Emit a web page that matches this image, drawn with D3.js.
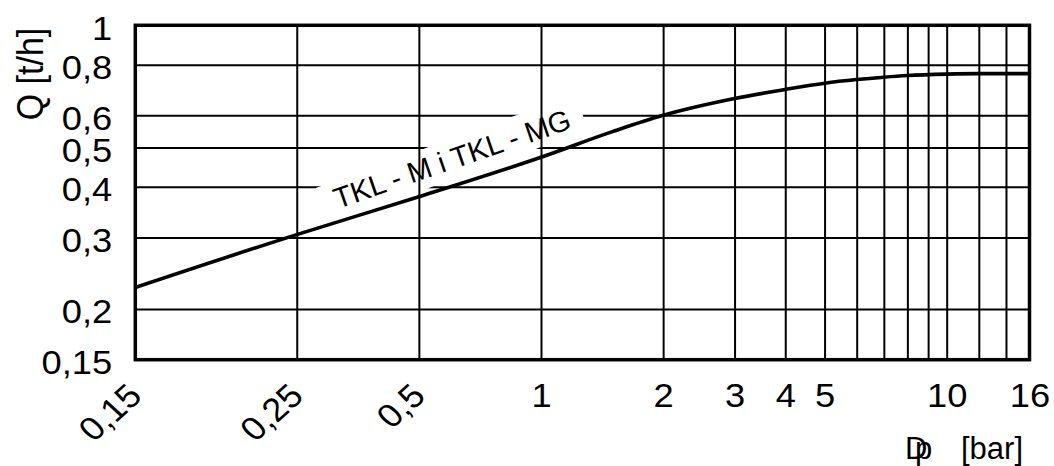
<!DOCTYPE html>
<html>
<head>
<meta charset="utf-8">
<script src="https://cdn.jsdelivr.net/npm/d3@7"></script>
<style>
  html, body { margin: 0; padding: 0; background: #fff; }
  svg { display: block; font-family: "Liberation Sans", Arial, sans-serif; }
</style>
</head>
<body>
<svg id="chart" width="1054" height="466"></svg>
<script>
// ---- data ----
const dp = [0.1, 0.25, 0.5, 1, 1.5, 2, 3, 4, 5, 6, 7, 8, 10, 12, 16];
const q  = [0.226, 0.305, 0.378, 0.473, 0.547, 0.6, 0.66, 0.695, 0.72, 0.735, 0.745, 0.752, 0.758, 0.76, 0.76];
const seriesLabel = "TKL - M i TKL - MG";

const xTickValues = [0.1, 0.25, 0.5, 1, 2, 3, 4, 5, 10, 16];
const xTickLabels = ["0,15", "0,25", "0,5", "1", "2", "3", "4", "5", "10", "16"];
const xGridValues = [0.25, 0.5, 1, 2, 3, 4, 5, 6, 7, 8, 9, 10, 12, 14];

const yTickValues = [0.15, 0.2, 0.3, 0.4, 0.5, 0.6, 0.8, 1];
const yTickLabels = ["0,15", "0,2", "0,3", "0,4", "0,5", "0,6", "0,8", "1"];
const yGridValues = [0.2, 0.3, 0.4, 0.5, 0.6, 0.8];

const xTitle = ["D", "p", "[bar]"];
const yTitle = "Q [t/h]";

// ---- layout ----
const L = 135.3, R = 1029.5, T = 25.3, B = 359.7;
const svg = d3.select("#chart");

const x = d3.scaleLog().domain([0.1, 16]).range([L, R]);
const y = d3.scaleLog().domain([0.15, 1]).range([B, T]);

const FS = 33, SX = 1.1;

// horizontal grid
const hg = svg.append("g").attr("transform", `translate(${L},0)`)
  .call(d3.axisLeft(y).tickValues(yGridValues).tickSize(-(R - L)).tickFormat(""));
hg.select(".domain").remove();
hg.selectAll("line").attr("stroke", "#000").attr("stroke-width", 2);

// white label box (hides horizontal grid only)
const boxCx = 452, boxCy = 159, boxW = 276, boxH = 38.5, ang = -20;
svg.append("rect")
  .attr("x", -boxW / 2).attr("y", -boxH / 2)
  .attr("width", boxW).attr("height", boxH)
  .attr("fill", "#fff")
  .attr("transform", `translate(${boxCx},${boxCy}) rotate(${ang})`);

// vertical grid
const vg = svg.append("g").attr("transform", `translate(0,${B})`)
  .call(d3.axisBottom(x).tickValues(xGridValues).tickSize(-(B - T)).tickFormat(""));
vg.select(".domain").remove();
vg.selectAll("line").attr("stroke", "#000").attr("stroke-width", 2);

// curve
const pts = dp.map((d, i) => [d, q[i]]);
svg.append("path")
  .datum(pts)
  .attr("fill", "none")
  .attr("stroke", "#000")
  .attr("stroke-width", 3.6)
  .attr("stroke-linejoin", "round")
  .attr("d", d3.line().x(d => x(d[0])).y(d => y(d[1])).curve(d3.curveMonotoneX));

// series label
svg.append("text")
  .attr("transform", `translate(${boxCx},${boxCy}) rotate(-19)`)
  .attr("text-anchor", "middle")
  .attr("dy", 10)
  .attr("font-size", 29)
  .attr("fill", "#000")
  .text(seriesLabel);

// frame
svg.append("rect")
  .attr("x", L).attr("y", T)
  .attr("width", R - L).attr("height", B - T)
  .attr("fill", "none").attr("stroke", "#000").attr("stroke-width", 3.5);

// y axis labels
const ya = svg.append("g").attr("transform", `translate(${L},0)`)
  .call(d3.axisLeft(y).tickValues(yTickValues).tickSize(0).tickPadding(21)
    .tickFormat((d, i) => yTickLabels[i]));
ya.select(".domain").remove();
ya.selectAll("text").attr("font-size", FS).attr("font-family", null).attr("fill", "#000")
  .attr("dy", "0.42em").attr("transform", `scale(${SX},1)`);

// x axis labels
const xa = svg.append("g").attr("transform", `translate(0,${B})`)
  .call(d3.axisBottom(x).tickValues(xTickValues).tickSize(0).tickPadding(24)
    .tickFormat((d, i) => xTickLabels[i]));
xa.select(".domain").remove();
xa.selectAll("text").attr("font-size", FS).attr("font-family", null).attr("fill", "#000")
  .attr("transform", `scale(${SX},1)`);
xa.selectAll(".tick").filter(d => d < 1).select("text")
  .attr("x", null).attr("y", null).attr("dy", null)
  .attr("text-anchor", "end")
  .attr("transform", `translate(8,38) scale(${SX},1) rotate(-45)`);

// axis titles
const xt = svg.append("text").attr("font-size", 31).attr("fill", "#000").attr("y", 459);
xt.append("tspan").attr("x", 905).text(xTitle[0]);
xt.append("tspan").attr("x", 915).text(xTitle[1]);
xt.append("tspan").attr("x", 961).text(xTitle[2]);

svg.append("text")
  .attr("transform", `translate(43,74) scale(${SX},1) rotate(-90)`)
  .attr("text-anchor", "middle")
  .attr("font-size", 34)
  .attr("fill", "#000")
  .text(yTitle);
</script>
</body>
</html>
